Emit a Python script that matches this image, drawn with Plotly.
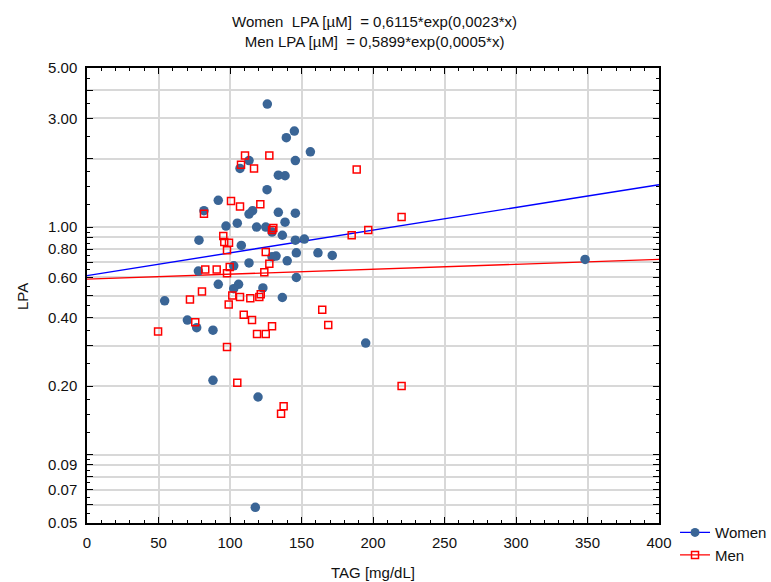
import numpy as np
import plotly.graph_objects as go

# ---- data ----
women_tag = [126.1, 145.0, 139.4, 156.2, 145.7, 113.3, 107.0, 133.8, 138.5, 125.9,
             91.8, 81.8, 133.8, 145.7, 115.8, 113.3, 138.5, 105.1, 97.2, 118.6,
             125.0, 129.4, 136.6, 78.3, 145.7, 152.0, 107.9, 146.4, 161.5, 171.5,
             132.2, 129.4, 140.0, 113.3, 102.6, 77.9, 146.4, 91.8, 106.0, 102.6,
             123.0, 54.3, 136.6, 70.2, 76.7, 88.1, 194.9, 88.1, 119.6, 117.7, 348.3]
women_lpa = [3.47, 2.64, 2.47, 2.14, 1.96, 1.96, 1.81, 1.69, 1.68, 1.46,
             1.31, 1.18, 1.16, 1.15, 1.18, 1.14, 1.05, 1.04, 1.01, 1.00,
             1.00, 0.95, 0.92, 0.875, 0.875, 0.885, 0.83, 0.77, 0.77, 0.75,
             0.745, 0.74, 0.71, 0.695, 0.675, 0.64, 0.60, 0.56, 0.56, 0.536,
             0.54, 0.474, 0.49, 0.39, 0.361, 0.352, 0.309, 0.212, 0.179, 0.0586, 0.72]

men_tag = [110.5, 127.5, 107.7, 116.8, 188.6, 100.7, 121.2, 107.0, 81.8, 196.7,
           185.1, 130.3, 129.4, 95.3, 96.0, 99.3, 97.9, 125.0, 127.5, 82.7,
           90.7, 99.8, 97.9, 124.0, 80.4, 72.0, 101.6, 107.0, 114.2, 120.5,
           121.5, 99.1, 164.5, 109.6, 115.4, 75.7, 168.7, 129.4, 49.7, 118.9,
           125.0, 97.9, 105.1, 137.5, 135.7, 220.0, 220.0]
men_lpa = [2.06, 2.06, 1.88, 1.81, 1.79, 1.30, 1.26, 1.23, 1.145, 0.97,
           0.92, 0.99, 0.97, 0.913, 0.86, 0.853, 0.79, 0.776, 0.69, 0.65,
           0.65, 0.667, 0.626, 0.632, 0.52, 0.48, 0.50, 0.492, 0.486, 0.492,
           0.506, 0.456, 0.433, 0.412, 0.39, 0.381, 0.371, 0.366, 0.347, 0.339,
           0.339, 0.297, 0.207, 0.163, 0.151, 1.107, 0.20]

# fitted exponential models (from the chart title)
women_a, women_b = 0.6115, 0.0023
men_a, men_b = 0.5899, 0.0005

y_grid_vals = [0.05, 0.06, 0.07, 0.08, 0.09, 0.1, 0.2, 0.3, 0.4, 0.5, 0.6, 0.7,
               0.8, 0.9, 1.0, 2.0, 3.0, 4.0, 5.0]
y_tick_labels = {0.05: "0.05", 0.07: "0.07", 0.09: "0.09", 0.2: "0.20", 0.4: "0.40",
                 0.6: "0.60", 0.8: "0.80", 1.0: "1.00", 3.0: "3.00", 5.0: "5.00"}
y_minor_vals = [0.055, 0.065, 0.075, 0.085, 0.095, 0.125, 0.15, 0.175, 0.25, 0.35,
                0.45, 0.55, 0.65, 0.75, 0.85, 0.95, 1.25, 1.5, 1.75, 2.5, 3.5, 4.5]

x_fit = np.linspace(0, 400, 201)

WOMEN_COL = "#3a6596"
LINE_BLUE = "#0000ff"
RED = "#ff0000"

fig = go.Figure()

fig.add_trace(go.Scatter(x=x_fit, y=women_a * np.exp(women_b * x_fit), mode="lines",
                         line=dict(color=LINE_BLUE, width=1.4), showlegend=False,
                         hoverinfo="skip"))
fig.add_trace(go.Scatter(x=x_fit, y=men_a * np.exp(men_b * x_fit), mode="lines",
                         line=dict(color=RED, width=1.4), showlegend=False,
                         hoverinfo="skip"))

fig.add_trace(go.Scatter(x=women_tag, y=women_lpa, mode="markers", name="Women",
                         marker=dict(symbol="circle", size=9.5, color=WOMEN_COL,
                                     line=dict(width=0)), showlegend=False))
fig.add_trace(go.Scatter(x=men_tag, y=men_lpa, mode="markers", name="Men",
                         marker=dict(symbol="square-open", size=7, color=RED,
                                     line=dict(width=1.5, color=RED)), showlegend=False))

# legend entries
fig.add_trace(go.Scatter(x=[None], y=[None], mode="lines+markers", name="Women",
                         line=dict(color=LINE_BLUE, width=1.4),
                         marker=dict(symbol="circle", size=9, color=WOMEN_COL)))
fig.add_trace(go.Scatter(x=[None], y=[None], mode="lines+markers", name="Men",
                         line=dict(color=RED, width=1.4),
                         marker=dict(symbol="square-open", size=7, color=RED,
                                     line=dict(width=1.5, color=RED))))

FONT = "Liberation Sans, Arial, Helvetica, sans-serif"

fig.update_layout(
    width=771, height=582,
    margin=dict(l=87, r=112, t=68, b=59, autoexpand=False),
    paper_bgcolor="white", plot_bgcolor="white",
    font=dict(family=FONT, size=15, color="#111111"),
    showlegend=True,
    legend=dict(x=1.028, y=0.015, xanchor="left", yanchor="top",
                font=dict(size=15), bgcolor="rgba(0,0,0,0)",
                tracegroupgap=0, itemwidth=30),
    annotations=[
        dict(text="Women\u00a0 LPA [µM] \u00a0= 0,6115*exp(0,0023*x)<br>Men LPA [µM] \u00a0= 0,5899*exp(0,0005*x)",
             xref="paper", yref="paper", x=0.503, y=1 + (68 - 31) / 455.0,
             xanchor="center", yanchor="middle", showarrow=False,
             font=dict(size=15, family=FONT)),
        dict(text="TAG [mg/dL]", xref="paper", yref="paper",
             x=0.5, y=-(572 - 523) / 455.0, xanchor="center", yanchor="middle",
             showarrow=False, font=dict(size=15, family=FONT)),
        dict(text="LPA", xref="paper", yref="paper", textangle=-90,
             x=-(87 - 22) / 572.0, y=(523 - 297) / 455.0, xanchor="center",
             yanchor="middle", showarrow=False, font=dict(size=15, family=FONT)),
    ],
)

fig.update_xaxes(
    range=[0, 400], tickmode="linear", tick0=0, dtick=50,
    showgrid=True, gridcolor="#d8d8d8", gridwidth=1.5,
    showline=True, linecolor="black", linewidth=1.5, mirror="ticks",
    ticks="inside", ticklen=6, tickwidth=1.2, tickcolor="black",
    minor=dict(dtick=10, ticks="inside", ticklen=3, tickcolor="black", showgrid=False),
    zeroline=False, automargin=False, ticklabelstandoff=5,
    tickfont=dict(size=15),
)

fig.update_yaxes(
    type="log", range=[np.log10(0.05), np.log10(5.0)],
    tickmode="array", tickvals=y_grid_vals,
    ticktext=[y_tick_labels.get(v, "") for v in y_grid_vals],
    showgrid=True, gridcolor="#d8d8d8", gridwidth=1.5,
    showline=True, linecolor="black", linewidth=1.5, mirror="ticks",
    ticks="inside", ticklen=6, tickwidth=1.2, tickcolor="black",
    minor=dict(tickmode="array", tickvals=y_minor_vals, ticks="inside", ticklen=3,
               tickcolor="black", showgrid=False),
    zeroline=False, automargin=False, ticklabelstandoff=5,
    tickfont=dict(size=15),
)

fig.write_html("out.html", config={"displayModeBar": False},
               post_script="document.body.style.margin='0';")
